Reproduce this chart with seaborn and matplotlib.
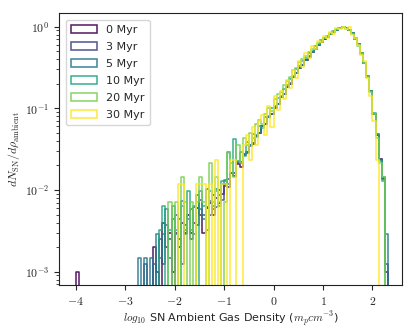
import numpy as np
import pandas as pd
import matplotlib
matplotlib.use("Agg")
import matplotlib.pyplot as plt
from matplotlib.patches import Patch
from matplotlib.ticker import FuncFormatter, LogLocator, NullFormatter
import seaborn as sns

sns.set_style("ticks")
plt.rcParams["font.family"] = ["DejaVu Sans"]
plt.rcParams["mathtext.fontset"] = "cm"

# ---- data: SN counts per log10 density bin (bin width 0.0625 dex, first bin starts at -4.0) ----
labels = ["0 Myr", "3 Myr", "5 Myr", "10 Myr", "20 Myr", "30 Myr"]
bin_start = -4.0
bin_width = 0.0625

counts_0 = ([1] + [0] * 24 +
            [2, 1, 0, 4, 2, 3, 1, 3, 2, 4, 3, 5, 3, 4, 6, 5, 3, 6, 7, 5, 8, 7, 9] +
            [12, 11, 16, 15, 21, 19, 27, 29, 36, 37, 46, 50, 60, 64, 78, 85, 102, 113, 137, 150,
             181, 200, 243, 270, 313, 342, 392, 430, 485, 530, 595, 655, 712, 755, 820, 865, 918,
             970, 1000, 962, 905, 838, 718, 610, 472, 362, 245, 163, 86, 47, 24, 14, 1])
counts_3 = ([0] * 22 +
            [1, 0, 0, 1, 0, 2, 1, 3, 2, 0, 4, 2, 1, 3, 4, 2, 5, 3, 6, 4, 5, 4, 7, 5, 8, 6] +
            [9, 11, 13, 13, 17, 17, 22, 23, 28, 30, 37, 40, 48, 52, 62, 69, 82, 90, 110, 121,
             145, 160, 195, 216, 250, 275, 315, 345, 388, 425, 475, 522, 572, 600, 655, 690, 735,
             776, 800, 770, 722, 672, 572, 488, 378, 290, 196, 130, 68, 38, 19, 11, 1])
counts_5 = ([0] * 20 +
            [1, 0, 1, 0, 1, 0, 2, 1, 2, 4, 1, 3, 2, 3, 5, 2, 3, 4, 2, 6, 4, 3, 7, 5, 4, 7, 6, 8] +
            [9, 8, 11, 11, 15, 15, 19, 20, 24, 26, 32, 34, 41, 44, 53, 58, 70, 77, 94, 103,
             124, 138, 167, 184, 214, 233, 270, 294, 332, 362, 408, 446, 490, 514, 560, 590, 630,
             662, 684, 660, 618, 575, 488, 418, 322, 248, 168, 112, 58, 33, 16, 10, 2])
counts_10 = ([0] * 27 +
             [1, 2, 0, 1, 2, 1, 0, 2, 1, 3, 1, 2, 0, 3, 2, 1, 3, 2, 3, 2, 4] +
             [4, 9, 5, 13, 7, 9, 8, 12, 11, 15, 14, 19, 18, 24, 25, 31, 33, 41, 44, 54,
              60, 70, 78, 94, 102, 118, 128, 146, 156, 178, 192, 214, 224,
              238, 250, 272, 280, 302, 310, 298, 280, 260, 220, 190, 145, 112, 76, 50, 27,
              15, 7, 4, 0])
counts_20 = ([0] * 30 +
             [1, 0, 1, 0, 2, 1, 0, 1, 0, 1, 2, 1, 0, 3, 1, 2, 1, 0] +
             [1, 4, 3, 2, 5, 3, 6, 5, 7, 6, 9, 10, 9, 12, 14, 13, 18, 21, 22, 27,
              30, 34, 41, 44, 52, 56, 62, 68, 74, 80, 87, 95, 101,
              106, 116, 120, 130, 136, 140, 132, 128, 114, 100, 82, 66, 50, 34, 22, 12,
              6, 3, 2, 0])
counts_30 = ([0] * 33 +
             [1, 1, 0, 0, 0, 0, 1, 1, 1, 0, 1, 0, 2, 0, 1] +
             [1, 0, 2, 2, 0, 0, 3, 4, 2, 5, 3, 6, 7, 4, 9, 5, 12, 8, 14, 11,
              19, 15, 25, 20, 32, 27, 40, 35, 49, 45, 56, 55, 66,
              62, 73, 70, 82, 80, 85, 79, 84, 68, 62, 50, 38, 32, 20, 12, 6,
              2, 0, 0, 0])
all_counts = [counts_0, counts_3, counts_5, counts_10, counts_20, counts_30]

# ---- build a long table ----
rows = []
for lab, cnt in zip(labels, all_counts):
    cnt = np.asarray(cnt, dtype=float)
    centers = bin_start + bin_width * (np.arange(len(cnt)) + 0.5)
    w = cnt / cnt.max()
    for c, v in zip(centers, w):
        rows.append((lab, c, v))
df = pd.DataFrame(rows, columns=["series", "logrho", "w"])
nb = len(counts_0)
edges = list(bin_start + bin_width * np.arange(-1, nb + 2))

colors = sns.color_palette("viridis", as_cmap=True)(np.linspace(0, 1, len(labels)))

fig = plt.figure(figsize=(4.15, 3.32), dpi=100)
ax = fig.add_axes([0.142, 0.142, 0.827, 0.819])

for lab, col in zip(labels, colors):
    sub = df[df["series"] == lab]
    sns.histplot(data=sub, x="logrho", weights="w", bins=edges, element="step",
                 fill=False, color=col, linewidth=1.15, alpha=0.88, ax=ax)

ax.set_yscale("log")
ax.set_xlim(-4.34, 2.6)
ax.set_ylim(6.9e-4, 1.47)

ax.xaxis.set_major_formatter(FuncFormatter(lambda v, p: r"$%d$" % int(round(v))))
ax.yaxis.set_major_locator(LogLocator(base=10))
ax.yaxis.set_major_formatter(FuncFormatter(lambda v, p: r"$10^{%d}$" % int(round(np.log10(v)))))
ax.yaxis.set_minor_formatter(NullFormatter())
ax.tick_params(axis="both", labelsize=8.5, direction="out", length=3.5, width=0.8)
ax.tick_params(axis="y", which="minor", length=2, width=0.6)

ax.set_xlabel(r"$log_{10}$ SN Ambient Gas Density ($m_pcm^{-3}$)", fontsize=8, labelpad=2)
ax.set_ylabel(r"$dN_{\rm SN}/d\rho_{\rm ambient}$", fontsize=8.5, labelpad=2)

for s in ax.spines.values():
    s.set_linewidth(0.8)
    s.set_color("#222222")

handles = [Patch(facecolor="none", edgecolor=c, linewidth=1.15, alpha=0.88) for c in colors]
ax.legend(handles, labels, loc="upper left", fontsize=8, frameon=True, fancybox=True,
          edgecolor="#cccccc", handlelength=2.3, handleheight=0.75, labelspacing=0.62,
          borderpad=0.5, handletextpad=0.8, borderaxespad=0.6)

fig.savefig("out.png", dpi=100)
